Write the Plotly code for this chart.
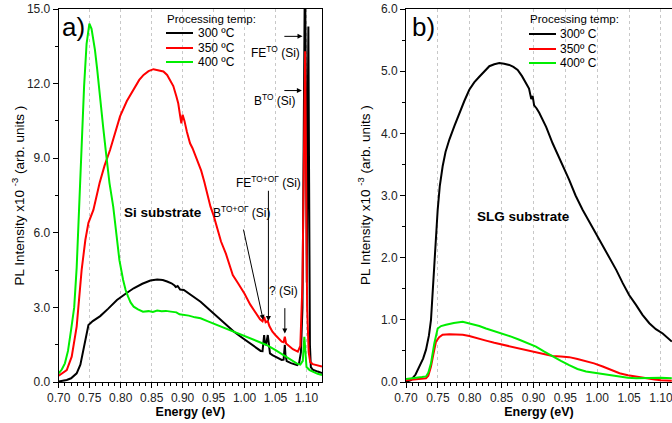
import plotly.graph_objects as go

W, H = 672, 423

# ---------------- Panel a (Si substrate) ----------------
a_e_300 = [0.700, 0.713, 0.720, 0.729, 0.735, 0.740, 0.744, 0.748, 0.755, 0.767, 0.780, 0.794, 0.808, 0.821,
           0.835, 0.848, 0.859, 0.868, 0.875, 0.882, 0.887, 0.889, 0.892, 0.896, 0.902, 0.915, 0.929, 0.942,
           0.956, 0.970, 0.983, 0.995, 1.005, 1.013, 1.020, 1.026, 1.029, 1.0305, 1.0316, 1.033, 1.035, 1.0375,
           1.039, 1.041, 1.045, 1.050, 1.055, 1.060, 1.063, 1.064, 1.065, 1.066, 1.068, 1.075, 1.080, 1.085,
           1.088, 1.091, 1.0935, 1.0960, 1.0975, 1.0990, 1.1005, 1.1018, 1.1030, 1.1042, 1.1055, 1.107, 1.110,
           1.118, 1.125]
a_i_300 = [0.02, 0.08, 0.15, 0.35, 0.70, 1.29, 1.90, 2.29, 2.45, 2.65, 2.95, 3.30, 3.55, 3.77,
           3.95, 4.08, 4.12, 4.10, 4.04, 3.97, 3.88, 3.82, 3.86, 3.72, 3.70, 3.48, 3.23, 2.94,
           2.63, 2.32, 2.02, 1.80, 1.62, 1.50, 1.38, 1.25, 1.24, 1.70, 1.89, 1.50, 1.55, 1.89,
           1.50, 1.15, 1.08, 1.02, 0.95, 0.89, 0.90, 1.30, 1.49, 1.10, 0.84, 0.76, 0.72, 0.68,
           0.75, 1.20, 3.00, 12.0, 17.0, 12.0, 4.0, 10.0, 14.3, 8.0, 1.5, 0.60, 0.50,
           0.42, 0.36]

a_e_350 = [0.700, 0.705, 0.713, 0.721, 0.729, 0.737, 0.743, 0.748, 0.756, 0.766, 0.774, 0.783, 0.791, 0.799,
           0.810, 0.820, 0.830, 0.837, 0.845, 0.853, 0.860, 0.869, 0.875, 0.880, 0.885, 0.890, 0.893, 0.896,
           0.898, 0.900, 0.903, 0.907, 0.912, 0.916, 0.920, 0.925, 0.930, 0.935, 0.940, 0.945, 0.950, 0.955,
           0.962, 0.970, 0.981, 0.990, 1.000, 1.009, 1.017, 1.025, 1.029, 1.0316, 1.034, 1.0375, 1.040, 1.045,
           1.050, 1.055, 1.060, 1.063, 1.065, 1.067, 1.070, 1.078, 1.086, 1.090, 1.0935, 1.0965, 1.0978, 1.0995,
           1.101, 1.1035, 1.106, 1.110, 1.118, 1.125]
a_i_350 = [0.25, 0.33, 0.48, 1.02, 2.23, 4.50, 5.71, 6.40, 6.92, 8.00, 8.70, 9.34, 10.05, 10.68,
           11.30, 11.75, 12.15, 12.35, 12.50, 12.58, 12.55, 12.49, 12.35, 12.15, 11.90, 11.48, 11.20, 10.70,
           10.40, 10.75, 10.50, 10.05, 9.60, 9.40, 9.15, 8.85, 8.50, 8.05, 7.55, 7.05, 6.70, 6.25,
           5.65, 5.15, 4.30, 3.95, 3.55, 3.12, 2.80, 2.52, 2.44, 2.62, 2.40, 2.45, 2.25, 2.02,
           1.88, 1.74, 1.62, 1.60, 1.82, 1.55, 1.49, 1.32, 1.22, 1.45, 4.0, 13.0, 13.3, 8.0,
           3.0, 1.20, 0.80, 0.72, 0.66, 0.62]

a_e_400 = [0.700, 0.705, 0.710, 0.715, 0.720, 0.725, 0.729, 0.733, 0.737, 0.741, 0.745, 0.7495, 0.753, 0.7585,
           0.762, 0.7666, 0.772, 0.777, 0.782, 0.788, 0.7935, 0.798, 0.804, 0.808, 0.812, 0.816, 0.821, 0.828,
           0.836, 0.845, 0.852, 0.859, 0.866, 0.873, 0.881, 0.890, 0.895, 0.902, 0.910, 0.920, 0.929, 0.940,
           0.950, 0.956, 0.965, 0.975, 0.983, 0.995, 1.0097, 1.020, 1.0355, 1.050, 1.0623, 1.075, 1.084, 1.090,
           1.094, 1.0965, 1.0985, 1.100, 1.105, 1.110, 1.118, 1.125]
a_i_400 = [0.35, 0.50, 0.75, 1.25, 2.10, 3.00, 4.60, 7.00, 9.60, 11.90, 13.60, 14.41, 14.20, 13.36,
           12.60, 11.35, 10.20, 9.07, 8.00, 7.05, 5.71, 4.90, 4.10, 3.70, 3.43, 3.20, 3.03, 2.92,
           2.83, 2.85, 2.82, 2.87, 2.85, 2.86, 2.83, 2.80, 2.72, 2.70, 2.67, 2.60, 2.56, 2.45,
           2.35, 2.29, 2.18, 2.08, 2.02, 1.90, 1.76, 1.65, 1.49, 1.28, 1.09, 0.90, 0.75, 0.70,
           0.85, 1.82, 1.20, 0.60, 0.48, 0.42, 0.33, 0.28]

# ---------------- Panel b (SLG substrate) ----------------
b_e_300 = [0.700, 0.7078, 0.715, 0.7209, 0.727, 0.7314, 0.736, 0.7392, 0.742, 0.7444, 0.7475, 0.7497, 0.753,
           0.7575, 0.762, 0.768, 0.776, 0.7837, 0.7915, 0.7993, 0.807, 0.815, 0.823, 0.8307, 0.8385, 0.8464,
           0.854, 0.862, 0.8685, 0.8752, 0.882, 0.8882, 0.893, 0.8965, 0.8987, 0.901, 0.905, 0.909, 0.920,
           0.930, 0.943, 0.956, 0.966, 0.977, 0.988, 0.998, 1.009, 1.019, 1.030, 1.040, 1.050, 1.0608,
           1.071, 1.0817, 1.092, 1.1027, 1.117]
b_i_300 = [0.00, 0.03, 0.12, 0.25, 0.38, 0.52, 0.75, 1.00, 1.45, 1.96, 2.45, 2.77, 3.15,
           3.47, 3.70, 3.90, 4.12, 4.33, 4.52, 4.70, 4.82, 4.91, 5.00, 5.08, 5.11, 5.13,
           5.12, 5.10, 5.07, 5.02, 4.92, 4.81, 4.72, 4.55, 4.60, 4.45, 4.40, 4.33, 4.10,
           3.84, 3.55, 3.25, 3.00, 2.77, 2.57, 2.39, 2.20, 2.02, 1.80, 1.59, 1.40, 1.24,
           1.08, 0.945, 0.85, 0.78, 0.65]

b_e_350 = [0.700, 0.715, 0.7314, 0.735, 0.7392, 0.743, 0.7471, 0.752, 0.7575, 0.768, 0.7784, 0.789, 0.7993,
           0.812, 0.8255, 0.8385, 0.8516, 0.865, 0.8778, 0.891, 0.904, 0.917, 0.930, 0.943, 0.956, 0.969,
           0.9824, 0.995, 1.0086, 1.022, 1.035, 1.048, 1.061, 1.075, 1.090, 1.100, 1.117]
b_i_350 = [0.03, 0.04, 0.06, 0.10, 0.25, 0.45, 0.65, 0.72, 0.76, 0.77, 0.77, 0.76, 0.74,
           0.70, 0.665, 0.63, 0.60, 0.565, 0.53, 0.50, 0.47, 0.445, 0.42, 0.41, 0.40, 0.37,
           0.34, 0.30, 0.25, 0.19, 0.14, 0.11, 0.085, 0.06, 0.04, 0.03, 0.02]

b_e_400 = [0.700, 0.706, 0.715, 0.725, 0.7314, 0.735, 0.7392, 0.7444, 0.7497, 0.755, 0.7627, 0.775, 0.7889,
           0.797, 0.8046, 0.815, 0.8255, 0.838, 0.8516, 0.865, 0.8778, 0.891, 0.9039, 0.917, 0.930, 0.943,
           0.956, 0.969, 0.9824, 0.995, 1.0086, 1.022, 1.035, 1.048, 1.061, 1.075, 1.088, 1.100, 1.117]
b_i_400 = [0.05, 0.06, 0.07, 0.08, 0.09, 0.15, 0.30, 0.62, 0.86, 0.90, 0.92, 0.95, 0.97,
           0.95, 0.93, 0.90, 0.86, 0.82, 0.78, 0.73, 0.68, 0.62, 0.57, 0.49, 0.41, 0.34,
           0.27, 0.21, 0.17, 0.15, 0.13, 0.10, 0.085, 0.07, 0.06, 0.065, 0.075, 0.07, 0.06]

labels_a = ["300 \u00baC", "350 \u00baC", "400 \u00baC"]
labels_b = ["300\u00ba C", "350\u00ba C", "400\u00ba C"]
colors = ["#000000", "#ff0000", "#00ee00"]

FONT = "Arial, Liberation Sans, sans-serif"

fig = go.Figure()
for e, i, c, n in zip([a_e_300, a_e_350, a_e_400], [a_i_300, a_i_350, a_i_400], colors, labels_a):
    fig.add_trace(go.Scatter(x=e, y=i, mode="lines", name=n, line=dict(color=c, width=2),
                             xaxis="x", yaxis="y", showlegend=False))
for e, i, c, n in zip([b_e_300, b_e_350, b_e_400], [b_i_300, b_i_350, b_i_400], colors, labels_b):
    fig.add_trace(go.Scatter(x=e, y=i, mode="lines", name=n, line=dict(color=c, width=2),
                             xaxis="x2", yaxis="y2", showlegend=False))

def px(x):
    return x / W

def py(y):
    return 1 - y / H

ydom = [py(382), py(9)]
common_x = dict(
    dtick=0.05, tick0=0.70, tickformat=".2f", ticks="outside", ticklen=5, tickwidth=1,
    tickcolor="#000", linecolor="#000", linewidth=1, mirror=True, showline=True,
    showgrid=True, gridcolor="#c8c8c8", griddash="dot", gridwidth=1, zeroline=False,
    tickfont=dict(family=FONT, size=12, color="#222"), ticklabeloverflow="allow",
    minor=dict(dtick=0.01, tick0=0.70, ticks="outside", ticklen=3, tickcolor="#000", showgrid=False),
    title=dict(text="<b>Energy (eV)</b>", font=dict(family=FONT, size=12.5, color="#000"), standoff=2),
    automargin=False,
)
common_y = dict(
    ticks="outside", ticklen=5, tickwidth=1, tickcolor="#000", tickformat=".1f",
    linecolor="#000", linewidth=1, showline=True, showgrid=False, zeroline=False,
    tickfont=dict(family=FONT, size=12, color="#222"), automargin=False,
)

fig.update_layout(
    width=W, height=H,
    margin=dict(l=0, r=0, t=0, b=0),
    paper_bgcolor="white", plot_bgcolor="white",
    font=dict(family=FONT, color="#000"),
    xaxis=dict(domain=[px(58.7), px(322)], range=[0.70, 1.125], anchor="y", **common_x),
    yaxis=dict(domain=ydom, range=[0, 15], dtick=3, mirror=True, anchor="x",
               minor=dict(dtick=1.5, ticks="outside", ticklen=3, tickcolor="#000"), **common_y),
    xaxis2=dict(domain=[px(406), 1.0], range=[0.70, 1.1173], anchor="y2", **common_x),
    yaxis2=dict(domain=ydom, range=[0, 6], dtick=1, mirror=False, anchor="x2",
                minor=dict(dtick=0.5, ticks="outside", ticklen=3, tickcolor="#000"), **common_y),
    showlegend=False,
)

def pann(x, y, text, size, xanchor="center", angle=0):
    return dict(x=px(x), y=py(y), xref="paper", yref="paper", text=text, textangle=angle,
                xanchor=xanchor, yanchor="middle", showarrow=False,
                font=dict(family=FONT, size=size, color="#000"))

ann = []
shapes = []
ytitle = "PL Intensity x10 <sup>-3</sup> (arb. units )"
ann.append(pann(19, 195.5, ytitle, 13.5, angle=-90))
ann.append(pann(364.5, 195.5, ytitle, 13.5, angle=-90))
# panel letters
ann.append(pann(60, 27, "a)", 26, xanchor="left"))
ann.append(pann(410, 27, "b)", 26, xanchor="left"))

# manual legends
for (lx, tx, ys, labs) in [(166, 196, [33, 48, 62], labels_a), (529, 558, [34, 49, 63], labels_b)]:
    ann.append(pann(lx - 1, 19, "Processing temp:", 11.5, xanchor="left"))
    for yy, lab, c in zip(ys, labs, colors):
        shapes.append(dict(type="line", xref="paper", yref="paper", x0=px(lx), x1=px(lx + 27),
                           y0=py(yy), y1=py(yy), line=dict(color=c, width=2)))
        ann.append(pann(tx, yy, lab, 12, xanchor="left"))

# panel labels
lab_font = dict(family=FONT, size=12, color="#000")
ann += [
    dict(x=0.8682, y=6.8, xref="x", yref="y", text="<b>Si substrate</b>", showarrow=False,
         font=dict(family=FONT, size=13.5, color="#000")),
    dict(x=1.0497, y=13.28, xref="x", yref="y", text="FE<sup>TO</sup> (Si)", showarrow=False, font=lab_font),
    dict(x=1.0489, y=11.35, xref="x", yref="y", text="B<sup>TO</sup> (Si)", showarrow=False, font=lab_font),
    dict(x=1.0392, y=8.05, xref="x", yref="y", text="FE<sup>TO+O\u0393</sup> (Si)", showarrow=False, font=lab_font),
    dict(x=0.9952, y=6.84, xref="x", yref="y", text="B<sup>TO+O\u0393</sup> (Si)", showarrow=False, font=lab_font),
    dict(x=1.0634, y=3.66, xref="x", yref="y", text="? (Si)", showarrow=False, font=lab_font),
    dict(x=0.8851, y=2.66, xref="x2", yref="y2", text="<b>SLG substrate</b>", showarrow=False,
         font=dict(family=FONT, size=13.5, color="#000")),
]
arrows = [((1.0618, 13.9), (1.0935, 13.9)),
          ((1.0618, 11.72), (1.0925, 11.72)),
          ((1.0385, 7.75), (1.0385, 2.45)),
          ((0.9977, 6.19), (1.0300, 2.50)),
          ((1.0650, 3.03), (1.0650, 1.95))]
for (tx_, ty_), (hx, hy) in arrows:
    ann.append(dict(x=hx, y=hy, ax=tx_, ay=ty_, xref="x", yref="y", axref="x", ayref="y", text="",
                    showarrow=True, arrowhead=2, arrowsize=1, arrowwidth=1, arrowcolor="#000"))

fig.update_layout(annotations=ann, shapes=shapes)
fig.write_html("out.html", config={"displayModeBar": False},
               post_script="document.body.style.margin='0';document.body.style.overflow='hidden';")
